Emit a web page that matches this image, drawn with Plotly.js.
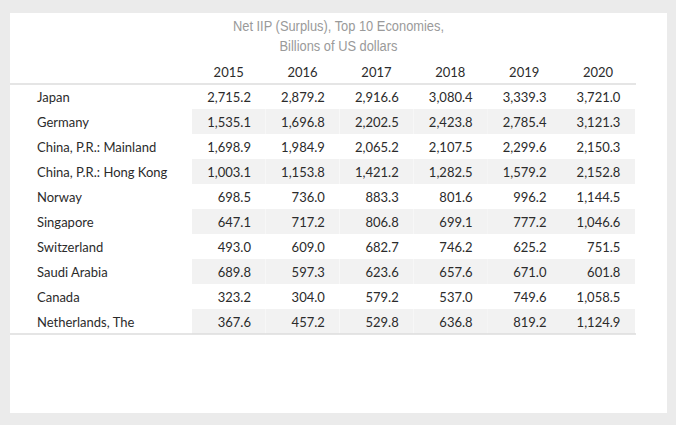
<!DOCTYPE html>
<html>
<head>
<meta charset="utf-8">
<script src="https://cdn.plot.ly/plotly-3.0.1.min.js"></script>
<style>
  html, body { margin: 0; padding: 0; background: #ebebeb; width: 676px; height: 425px; overflow: hidden; }
  #chart { position: absolute; left: 10px; top: 13px; width: 657px; height: 400px; background: #ffffff; }
</style>
</head>
<body>
<div id="chart"></div>
<script>
const years = ['2015', '2016', '2017', '2018', '2019', '2020'];
const countries = ['Japan', 'Germany', 'China, P.R.: Mainland', 'China, P.R.: Hong Kong', 'Norway',
  'Singapore', 'Switzerland', 'Saudi Arabia', 'Canada', 'Netherlands, The'];
const v2015 = [2715.2, 1535.1, 1698.9, 1003.1, 698.5, 647.1, 493.0, 689.8, 323.2, 367.6];
const v2016 = [2879.2, 1696.8, 1984.9, 1153.8, 736.0, 717.2, 609.0, 597.3, 304.0, 457.2];
const v2017 = [2916.6, 2202.5, 2065.2, 1421.2, 883.3, 806.8, 682.7, 623.6, 579.2, 529.8];
const v2018 = [3080.4, 2423.8, 2107.5, 1282.5, 801.6, 699.1, 746.2, 657.6, 537.0, 636.8];
const v2019 = [3339.3, 2785.4, 2299.6, 1579.2, 996.2, 777.2, 625.2, 671.0, 749.6, 819.2];
const v2020 = [3721.0, 3121.3, 2150.3, 2152.8, 1144.5, 1046.6, 751.5, 601.8, 1058.5, 1124.9];

const W = 657, H = 400;
const valueCols = [v2015, v2016, v2017, v2018, v2019, v2020];
const band = countries.map((c, i) => (i % 2 === 0 ? '#ffffff' : '#f2f2f2'));
const whiteCol = countries.map(() => '#ffffff');

const tableLeft = 19, tableRight = 626, headerTop = 46, rowH = 25, headerH = 25;
const tableBottom = headerTop + headerH + rowH * countries.length;

const trace = {
  type: 'table',
  domain: { x: [tableLeft / W, tableRight / W], y: [1 - tableBottom / H, 1 - headerTop / H] },
  columnwidth: [163, 74, 74, 74, 74, 74, 74],
  header: {
    values: [''].concat(years),
    align: ['left', 'center', 'center', 'center', 'center', 'center', 'center'],
    height: headerH,
    fill: { color: '#ffffff' },
    line: { width: 0, color: 'rgba(0,0,0,0)' },
    font: { family: 'Lato, "Open Sans", sans-serif', size: 13, color: '#2b2b2b' }
  },
  cells: {
    values: [countries].concat(valueCols),
    format: ['', ',.1f', ',.1f', ',.1f', ',.1f', ',.1f', ',.1f'],
    suffix: ['', '\u00a0\u00a0', '\u00a0\u00a0', '\u00a0\u00a0', '\u00a0\u00a0', '\u00a0\u00a0', '\u00a0\u00a0'],
    align: ['left', 'right', 'right', 'right', 'right', 'right', 'right'],
    height: rowH,
    fill: { color: [whiteCol, band, band, band, band, band, band] },
    line: { width: 0, color: 'rgba(0,0,0,0)' },
    font: { family: 'Lato, "Open Sans", sans-serif', size: 13, color: '#2b2b2b' }
  }
};

const layout = {
  width: W, height: H,
  margin: { l: 0, r: 0, t: 0, b: 0 },
  paper_bgcolor: '#ffffff',
  title: {
    text: 'Net IIP (Surplus), Top 10 Economies,<br>Billions of US dollars',
    x: 0.5, xanchor: 'center', xref: 'paper',
    y: 1 - 18 / H, yanchor: 'top', yref: 'container',
    font: { family: '"Liberation Sans Narrow", "Liberation Sans", sans-serif', stretch: 'condensed', size: 15.5, color: '#9a9a9a' }
  },
  shapes: [
    { type: 'line', xref: 'paper', yref: 'paper', x0: 0, x1: tableRight / W,
      y0: 1 - (headerTop + headerH) / H, y1: 1 - (headerTop + headerH) / H,
      line: { color: '#dcdcdc', width: 1.5 } },
    { type: 'line', xref: 'paper', yref: 'paper', x0: 0, x1: tableRight / W,
      y0: 1 - tableBottom / H, y1: 1 - tableBottom / H,
      line: { color: '#dcdcdc', width: 1.5 } }
  ]
};

Plotly.newPlot('chart', [trace], layout, { displayModeBar: false, staticPlot: true }).then(function (gd) {
  // narrow the title horizontally to mimic the condensed face of the original
  const t = gd.querySelector('.gtitle');
  if (t) {
    const cx = parseFloat(t.getAttribute('x')) || W / 2;
    t.setAttribute('transform', 'translate(' + cx + ',0) scale(0.83,1) translate(' + (-cx) + ',0)');
  }
});
</script>
</body>
</html>
